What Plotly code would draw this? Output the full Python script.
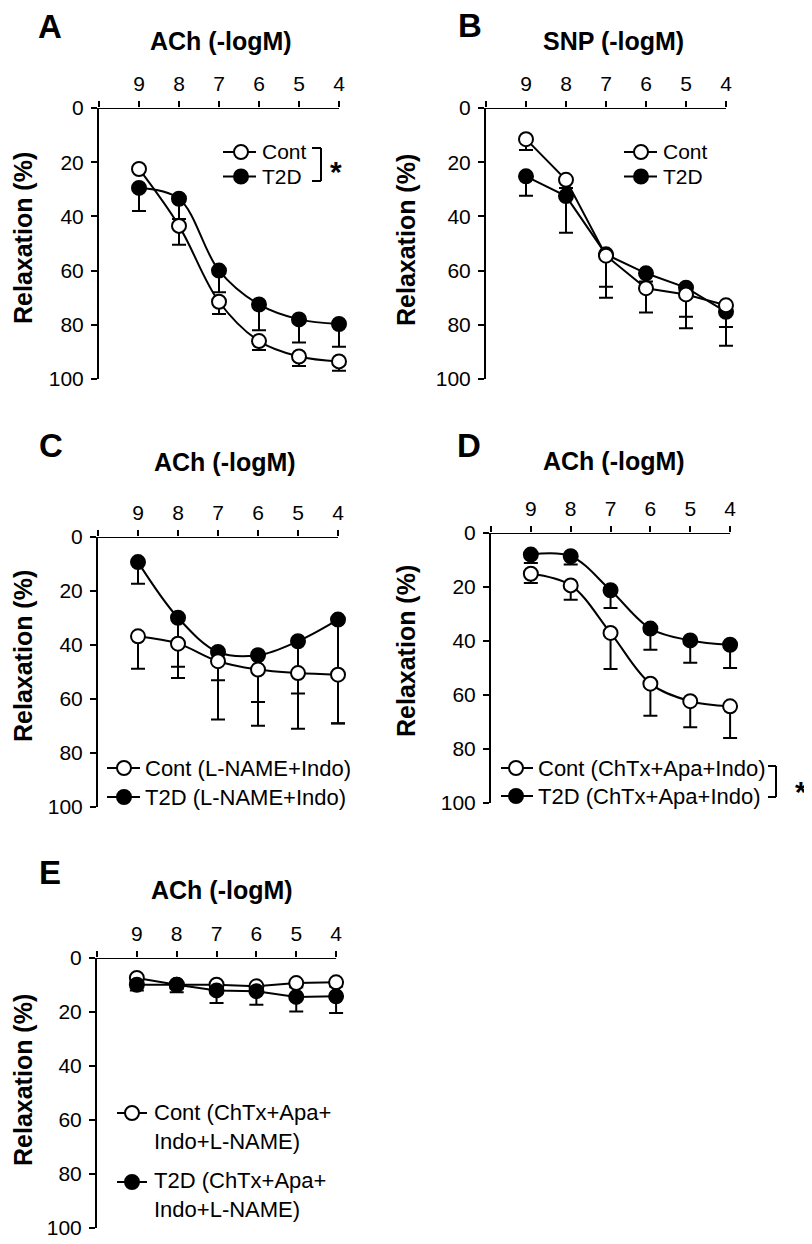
import plotly.graph_objects as go

# page is rendered with the browser's default 8px body margin
OFF = 8
W, H = 812 - OFF, 1244 - OFF
FONT = "Liberation Sans, Arial, sans-serif"

# ---------------- data (relaxation %, -logM) ----------------
conc = [9, 8, 7, 6, 5, 4]
x_ticks = [10, 9, 8, 7, 6, 5, 4]
x_ticktext = ["", "9", "8", "7", "6", "5", "4"]
y_ticks = [0, 20, 40, 60, 80, 100]

A_cont = [22.5, 43.5, 71.5, 86.0, 91.7, 93.5]
A_cont_err = [0.5, 7.0, 4.5, 3.3, 3.5, 3.5]
A_t2d = [29.5, 33.5, 60.0, 72.5, 78.0, 79.7]
A_t2d_err = [8.5, 7.5, 8.0, 9.5, 8.5, 8.4]

B_cont = [11.5, 26.5, 54.5, 66.5, 68.8, 72.8]
B_cont_err = [4.0, 3.0, 15.5, 9.0, 12.5, 8.0]
B_t2d = [25.2, 32.5, 54.0, 61.0, 66.3, 75.2]
B_t2d_err = [7.2, 13.5, 12.0, 3.0, 10.7, 12.5]

C_cont = [36.8, 39.5, 46.0, 49.1, 50.4, 51.0]
C_cont_err = [12.0, 12.7, 21.6, 20.8, 20.6, 18.0]
C_t2d = [9.3, 29.9, 42.6, 43.8, 38.6, 30.6]
C_t2d_err = [8.0, 18.2, 10.5, 17.3, 19.4, 38.5]

D_cont = [15.1, 19.4, 37.0, 55.8, 62.3, 64.2]
D_cont_err = [3.4, 5.3, 13.4, 11.9, 9.6, 11.7]
D_t2d = [8.0, 8.6, 21.2, 35.4, 39.8, 41.4]
D_t2d_err = [3.1, 3.1, 6.6, 7.8, 8.3, 8.6]

E_cont = [7.4, 9.9, 9.9, 10.5, 9.3, 9.0]
E_cont_err = [1.8, 1.5, 1.5, 1.2, 1.5, 1.6]
E_t2d = [9.9, 9.9, 12.0, 12.3, 14.4, 14.2]
E_t2d_err = [2.1, 2.8, 4.7, 5.0, 5.4, 6.2]

legend_labels = {
    "A": ("Cont", "T2D"),
    "B": ("Cont", "T2D"),
    "C": ("Cont (L-NAME+Indo)", "T2D (L-NAME+Indo)"),
    "D": ("Cont (ChTx+Apa+Indo)", "T2D (ChTx+Apa+Indo)"),
    "E": ("Cont (ChTx+Apa+<br>Indo+L-NAME)", "T2D (ChTx+Apa+<br>Indo+L-NAME)"),
}
titles = {"A": "ACh (-logM)", "B": "SNP (-logM)", "C": "ACh (-logM)",
          "D": "ACh (-logM)", "E": "ACh (-logM)"}

# ---------------- layout helpers (page pixel -> paper) ----------------
def px(x):
    return (x - OFF) / W

def py(y):
    return 1 - (y - OFF) / H

# panel: (x_left, x_right, y_top, y_bottom) in page pixels
panels = {
    "A": (99, 339, 108, 379),
    "B": (486, 726, 108, 379),
    "C": (98, 338, 537, 807),
    "D": (491, 730, 533, 803),
    "E": (97, 336, 958, 1228),
}
EXT = 24          # extra room right of the last dose so end markers / caps are not clipped
PX_PER_UNIT = 40.0

title_pos = {"A": (221, 41), "B": (613, 41), "C": (225, 462), "D": (614, 461), "E": (222, 890)}
letter_pos = {"A": (50, 27), "B": (470, 25), "C": (51, 445), "D": (469, 445), "E": (50, 872)}
ylabel_pos = {"A": (23, 238), "B": (406, 240), "C": (23, 656), "D": (406, 651), "E": (23, 1080)}

# legend keys: line x0, line x1, marker cx, text x, row y (cont), row y (t2d),
#              text y (cont), text y (t2d), font size
legend_geo = {
    "A": (223, 256, 241, 260, 152, 176.5, 152, 176.5, 21),
    "B": (624, 657, 641, 661, 152, 176.5, 152, 176.5, 21),
    "C": (107, 140, 124, 143, 768, 797, 768, 797, 22),
    "D": (501, 533, 516, 536, 768, 796, 768, 796, 22),
    "E": (117, 147, 132, 152, 1113, 1182, 1126.5, 1195, 22),
}

fig = go.Figure()
layout = dict(
    width=W, height=H,
    margin=dict(l=0, r=0, t=0, b=0, autoexpand=False),
    paper_bgcolor="white", plot_bgcolor="rgba(0,0,0,0)",
    font=dict(family=FONT, color="black"),
    showlegend=False,
    annotations=[], shapes=[],
)

def add_series(xa, ya, name, yvals, errs, filled, smooth):
    fig.add_trace(go.Scatter(
        x=conc, y=yvals, xaxis=xa, yaxis=ya, name=name,
        mode="lines+markers",
        line=dict(color="black", width=2, shape="spline" if smooth else "linear"),
        marker=dict(size=14, color="black" if filled else "white",
                    line=dict(color="black", width=2), symbol="circle"),
        error_y=dict(type="data", array=errs, arrayminus=[0] * len(errs),
                     symmetric=False, color="black", thickness=2, width=7),
        cliponaxis=False,
    ))

specs = [
    ("A", A_cont, A_cont_err, A_t2d, A_t2d_err, True, "cont_last"),
    ("B", B_cont, B_cont_err, B_t2d, B_t2d_err, False, "cont_last"),
    ("C", C_cont, C_cont_err, C_t2d, C_t2d_err, True, "cont_last"),
    ("D", D_cont, D_cont_err, D_t2d, D_t2d_err, True, "cont_last"),
    ("E", E_cont, E_cont_err, E_t2d, E_t2d_err, False, "t2d_last"),
]

for i, (key, yc, ec, yt, et, smooth, order) in enumerate(specs, start=1):
    xl, xr, yt_px, yb_px = panels[key]
    xa = "x" if i == 1 else f"x{i}"
    ya = "y" if i == 1 else f"y{i}"
    nc, nt = legend_labels[key]
    if order == "cont_last":
        add_series(xa, ya, nt, yt, et, True, smooth)
        add_series(xa, ya, nc, yc, ec, False, smooth)
    else:
        add_series(xa, ya, nc, yc, ec, False, smooth)
        add_series(xa, ya, nt, yt, et, True, smooth)

    xname = "xaxis" if i == 1 else f"xaxis{i}"
    yname = "yaxis" if i == 1 else f"yaxis{i}"
    x_hi = 4 - EXT / PX_PER_UNIT
    layout[xname] = dict(
        domain=[px(xl), px(xr + EXT)], anchor=ya, side="top",
        range=[10, x_hi], tickmode="array", tickvals=x_ticks, ticktext=x_ticktext,
        showline=False,
        ticks="outside", ticklen=6, tickwidth=2, tickcolor="black",
        showgrid=False, zeroline=False, automargin=False, fixedrange=True,
        tickfont=dict(family=FONT, size=21, color="black"),
        ticklabelstandoff=2,
    )
    layout[yname] = dict(
        domain=[py(yb_px), py(yt_px)], anchor=xa,
        range=[100, 0], tickmode="array", tickvals=y_ticks,
        showline=True, linecolor="black", linewidth=2,
        ticks="outside", ticklen=6, tickwidth=2, tickcolor="black",
        showgrid=False, zeroline=False, automargin=False, fixedrange=True,
        tickfont=dict(family=FONT, size=21, color="black"),
        ticklabelstandoff=3,
    )
    # x-axis line spanning only the dose range (10 .. 4)
    layout["shapes"].append(dict(
        type="line", xref=xa, yref=ya, x0=x_ticks[0], x1=x_ticks[-1], y0=0, y1=0,
        line=dict(color="black", width=2), layer="above"))

    tx, ty = title_pos[key]
    layout["annotations"].append(dict(
        text=f"<b>{titles[key]}</b>", x=px(tx), y=py(ty), xref="paper", yref="paper",
        showarrow=False, xanchor="center", yanchor="middle",
        font=dict(family=FONT, size=25, color="black")))
    lx2, ly2 = letter_pos[key]
    layout["annotations"].append(dict(
        text=f"<b>{key}</b>", x=px(lx2), y=py(ly2), xref="paper", yref="paper",
        showarrow=False, xanchor="center", yanchor="middle",
        font=dict(family=FONT, size=33, color="black")))
    rx, ry = ylabel_pos[key]
    layout["annotations"].append(dict(
        text="<b>Relaxation (%)</b>", x=px(rx), y=py(ry), xref="paper", yref="paper",
        showarrow=False, xanchor="center", yanchor="middle", textangle=-90,
        font=dict(family=FONT, size=25, color="black")))

    # legend (key line + circle + label)
    lx0, lx1, mcx, ltx, ry_c, ry_t, ty_c, ty_t, lfs = legend_geo[key]
    for label, rowy, texty, filled in [(nc, ry_c, ty_c, False), (nt, ry_t, ty_t, True)]:
        layout["shapes"].append(dict(
            type="line", xref="paper", yref="paper",
            x0=px(lx0), x1=px(lx1), y0=py(rowy), y1=py(rowy),
            line=dict(color="black", width=2)))
        layout["shapes"].append(dict(
            type="circle", xref="paper", yref="paper",
            x0=px(mcx - 7), x1=px(mcx + 7), y0=py(rowy + 7), y1=py(rowy - 7),
            fillcolor="black" if filled else "white",
            line=dict(color="black", width=2)))
        layout["annotations"].append(dict(
            text=label, x=px(ltx), y=py(texty), xref="paper", yref="paper",
            showarrow=False, xanchor="left", yanchor="middle", align="left",
            font=dict(family=FONT, size=lfs, color="black")))

# significance brackets
def bracket(x_v, x_h, y0, y1, sx, sy):
    for seg in [(x_v, y0, x_v, y1), (x_h, y0, x_v, y0), (x_h, y1, x_v, y1)]:
        layout["shapes"].append(dict(
            type="line", xref="paper", yref="paper",
            x0=px(seg[0]), y0=py(seg[1]), x1=px(seg[2]), y1=py(seg[3]),
            line=dict(color="black", width=2)))
    layout["annotations"].append(dict(
        text="<b>*</b>", x=px(sx), y=py(sy), xref="paper", yref="paper",
        showarrow=False, xanchor="center", yanchor="middle",
        font=dict(family=FONT, size=30, color="black")))

bracket(321, 312, 148, 181, 336, 171)
bracket(776, 768, 766, 797, 801, 791)

fig.update_layout(**layout)
fig.write_html("out.html")
